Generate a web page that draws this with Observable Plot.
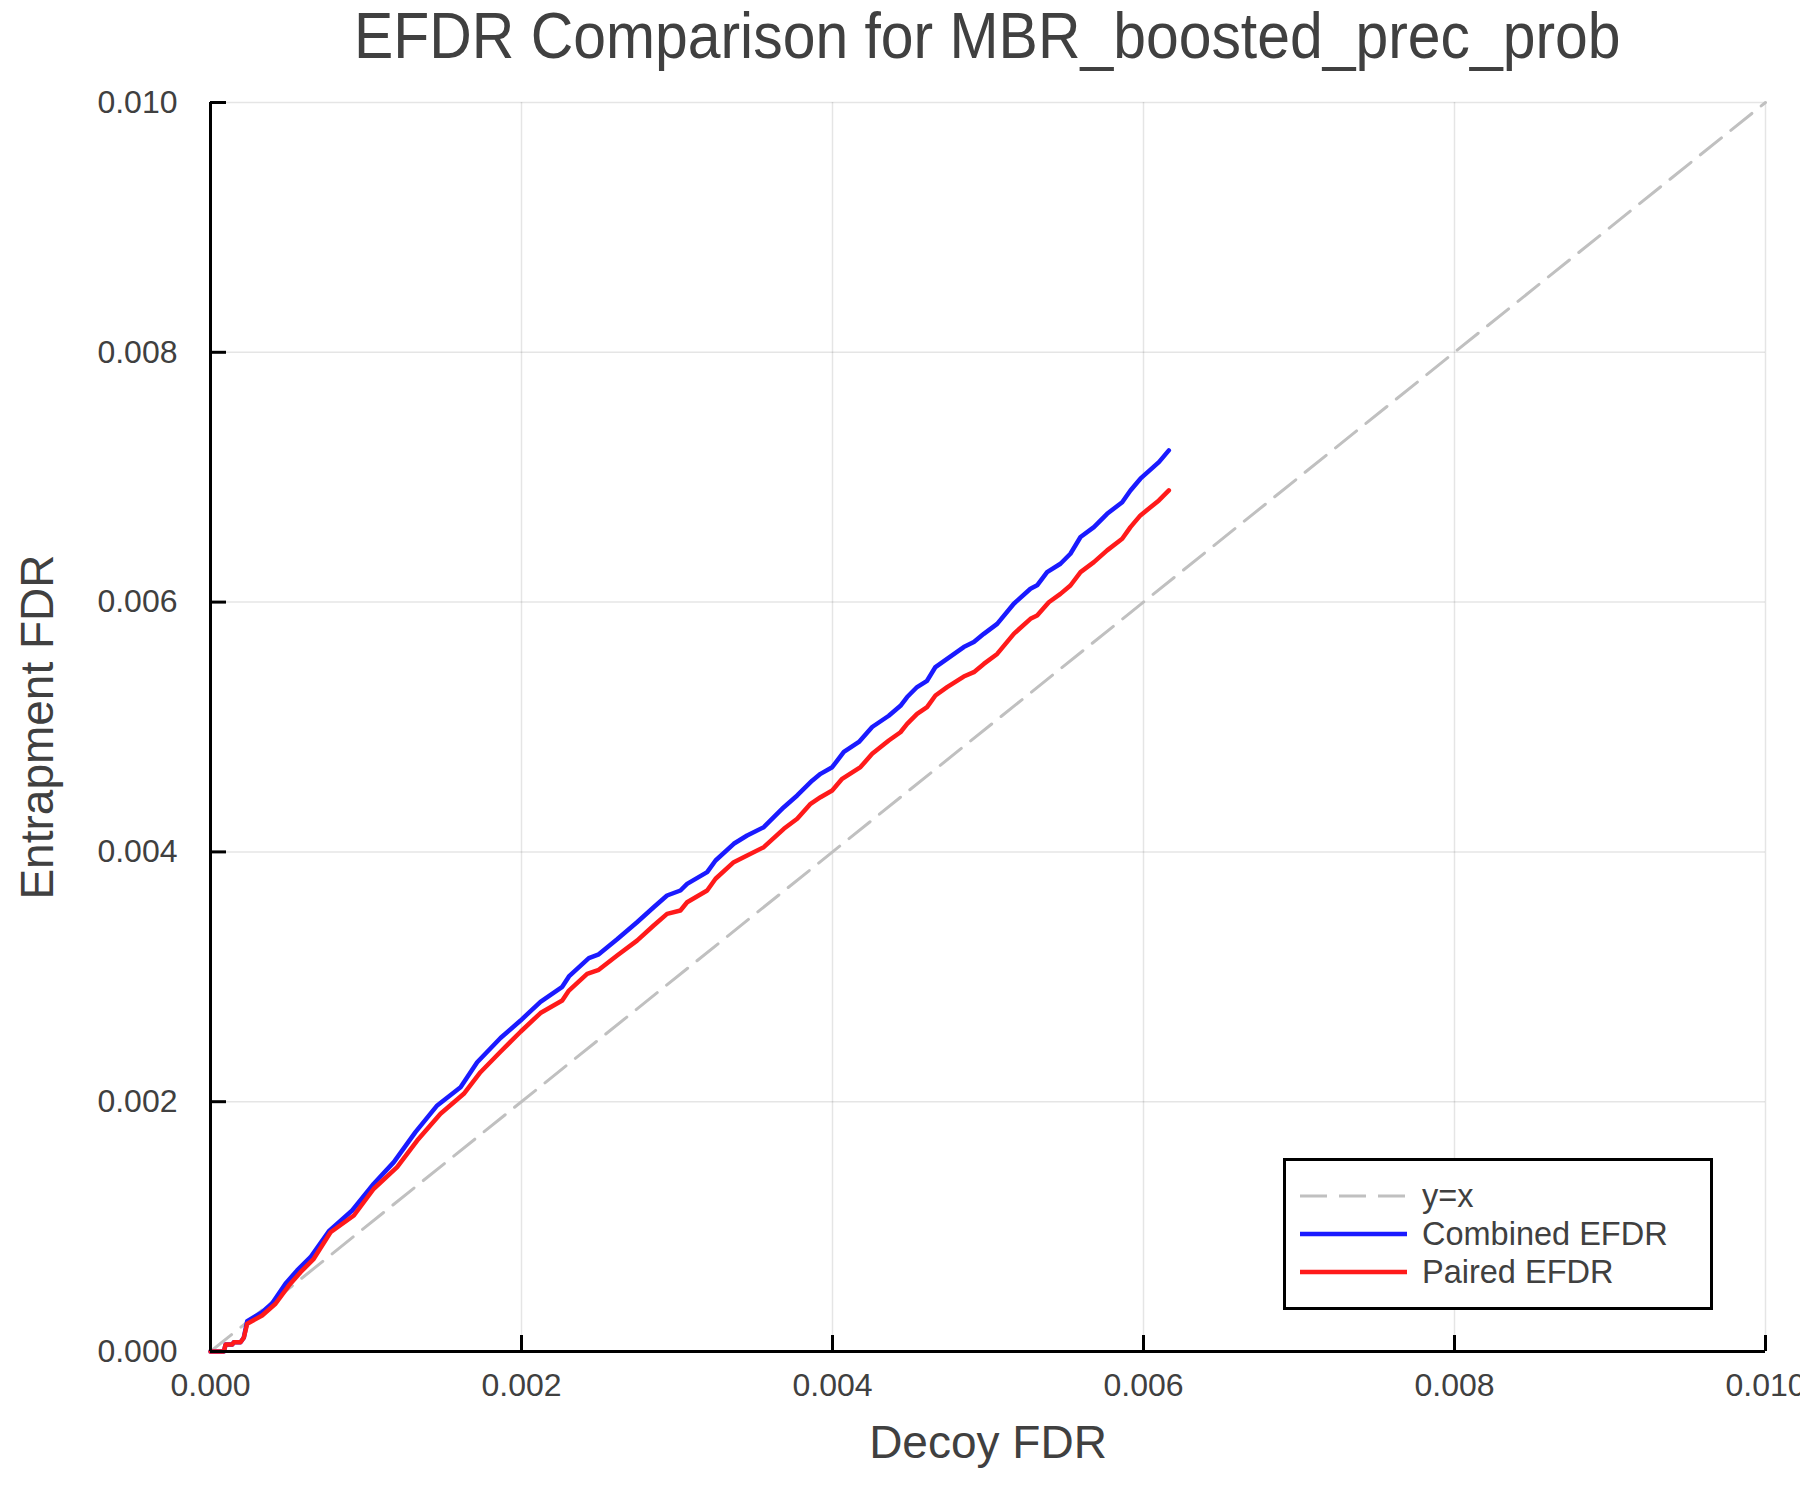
<!DOCTYPE html>
<html>
<head>
<meta charset="utf-8">
<script src="https://cdn.jsdelivr.net/npm/d3@7"></script>
<script src="https://cdn.jsdelivr.net/npm/@observablehq/plot@0.6"></script>
<style>
  body { margin: 0; background: #fff; }
  #wrap { position: relative; width: 1800px; height: 1500px; overflow: hidden;
          font-family: "Liberation Sans", Helvetica, Arial, sans-serif; color: #404040; background: #fff; }
  #title { position: relative; height: 80px; }
  #title div { position: absolute; left: 210px; width: 1555px; top: 0px; text-align: center;
               font-size: 64px; line-height: 72px; white-space: nowrap; }
  #title span { display: inline-block; transform: scaleX(0.92); transform-origin: center; }
  #legend { position: absolute; left: 1283px; top: 1158px; width: 430px; height: 152px;
            box-sizing: border-box; border: 3px solid #000; background: #fff; }
  .row { position: absolute; left: 14px; height: 38px; display: flex; align-items: center;
         font-size: 32.5px; line-height: 38px; white-space: nowrap; }
  .row svg { margin-right: 15px; }
</style>
</head>
<body>
<div id="wrap">
  <div id="title"><div><span id="titleText"></span></div></div>
  <div id="chart"></div>
  <div id="legend"></div>
</div>
<script>
// ---- data ----
const titleText = "EFDR Comparison for MBR_boosted_prec_prob";
const xLabel = "Decoy FDR";
const yLabel = "Entrapment FDR";
const tickValues = [0, 0.002, 0.004, 0.006, 0.008, 0.010];
const axisDomain = [0, 0.010];
const diagonal = [0, 0.010];

const combinedDecoyFdr = [0, 0.000086, 0.000097, 0.00014, 0.00015, 0.000193, 0.000214, 0.000236, 0.000332, 0.000397,
  0.000482, 0.000557, 0.000643, 0.000761, 0.000911, 0.00105, 0.001179, 0.001318, 0.001458, 0.001608,
  0.001715, 0.001865, 0.001994, 0.002122, 0.002262, 0.002305, 0.002433, 0.002497, 0.002615, 0.002743,
  0.00285, 0.002936, 0.003022, 0.003065, 0.003194, 0.003248, 0.003365, 0.003451, 0.003558, 0.003687,
  0.003773, 0.003869, 0.003923, 0.003998, 0.004073, 0.00417, 0.004255, 0.004362, 0.004437, 0.00448,
  0.004544, 0.004608, 0.004662, 0.004737, 0.004844, 0.004909, 0.004973, 0.005059, 0.005166, 0.005273,
  0.005316, 0.00538, 0.005466, 0.00553, 0.005595, 0.005681, 0.005766, 0.005863, 0.005916, 0.00598,
  0.006099, 0.006163];
const combinedEfdr = [0, 0, 0.000056, 0.000056, 0.000074, 0.000074, 0.00011, 0.000243, 0.000315, 0.000387,
  0.000542, 0.000649, 0.000755, 0.000963, 0.001129, 0.001343, 0.001516, 0.001756, 0.00197, 0.002116,
  0.002316, 0.00251, 0.00265, 0.0028, 0.00292, 0.003003, 0.00315, 0.00318, 0.0033, 0.003437,
  0.003557, 0.003651, 0.003691, 0.003744, 0.003838, 0.003931, 0.004065, 0.004131, 0.004198, 0.004358,
  0.004452, 0.00457, 0.004625, 0.004678, 0.0048, 0.00488, 0.005, 0.00509, 0.00517, 0.00524,
  0.00532, 0.00537, 0.00548, 0.005546, 0.00564, 0.00568, 0.005746, 0.005826, 0.005987, 0.006107,
  0.006134, 0.00624, 0.006307, 0.006387, 0.006521, 0.0066, 0.006707, 0.0068, 0.006894, 0.006988,
  0.007121, 0.007215];

const pairedDecoyFdr = [0, 0.000086, 0.000097, 0.00014, 0.00015, 0.000193, 0.000214, 0.000236, 0.000332, 0.000418,
  0.000504, 0.000579, 0.000664, 0.000772, 0.000922, 0.00105, 0.0012, 0.001329, 0.001479, 0.001629,
  0.001736, 0.001865, 0.001994, 0.002122, 0.002262, 0.002305, 0.002422, 0.002497, 0.002615, 0.002743,
  0.00285, 0.002936, 0.003022, 0.003065, 0.003194, 0.003248, 0.003365, 0.003451, 0.003558, 0.003687,
  0.003773, 0.003859, 0.003923, 0.003998, 0.004062, 0.00418, 0.004255, 0.004362, 0.004437, 0.00448,
  0.004544, 0.004608, 0.004662, 0.004737, 0.004844, 0.004909, 0.004973, 0.005059, 0.005166, 0.005273,
  0.005316, 0.005391, 0.005466, 0.00553, 0.005595, 0.005681, 0.005766, 0.005863, 0.005916, 0.00598,
  0.006099, 0.006163];
const pairedEfdr = [0, 0, 0.000056, 0.000056, 0.000074, 0.000074, 0.00011, 0.000222, 0.000288, 0.000382,
  0.000528, 0.000635, 0.000742, 0.000955, 0.001089, 0.001303, 0.001476, 0.001689, 0.001903, 0.002063,
  0.002236, 0.0024, 0.00256, 0.00271, 0.00281, 0.00289, 0.003024, 0.003056, 0.00317, 0.00329,
  0.003411, 0.003504, 0.003531, 0.003597, 0.003691, 0.003785, 0.003918, 0.003971, 0.004038, 0.004185,
  0.004265, 0.004385, 0.004438, 0.004492, 0.004585, 0.004679, 0.004785, 0.004892, 0.004958, 0.005025,
  0.005105, 0.005159, 0.005252, 0.005319, 0.005404, 0.005439, 0.005505, 0.005585, 0.005746, 0.005866,
  0.005892, 0.005999, 0.006066, 0.006133, 0.00624, 0.00632, 0.006414, 0.006507, 0.0066, 0.006694,
  0.006814, 0.006894];

const seriesNames = ["y=x", "Combined EFDR", "Paired EFDR"];
const seriesColors = ["#c0c0c0", "#1a1aff", "#ff1a1a"];

// ---- build tables ----
const combined = combinedDecoyFdr.map((x, i) => ({x, y: combinedEfdr[i]}));
const paired = pairedDecoyFdr.map((x, i) => ({x, y: pairedEfdr[i]}));
const fmt = d3.format(".3f");
const textColor = "#404040";
const font = "'Liberation Sans', Helvetica, Arial, sans-serif";

document.getElementById("titleText").textContent = titleText;

const chart = Plot.plot({
  width: 1800,
  height: 1420,
  marginTop: 22,
  marginBottom: 149,
  marginLeft: 210,
  marginRight: 35,
  style: {fontFamily: font, fontSize: "32px", color: textColor, background: "white"},
  x: {domain: axisDomain},
  y: {domain: axisDomain},
  marks: [
    Plot.gridX(tickValues, {stroke: "#000", strokeOpacity: 0.1, strokeWidth: 1.5}),
    Plot.gridY(tickValues, {stroke: "#000", strokeOpacity: 0.1, strokeWidth: 1.5}),
    Plot.line(diagonal, {x: d => d, y: d => d, stroke: seriesColors[0], strokeWidth: 3, strokeDasharray: "27,12"}),
    Plot.line(combined, {x: "x", y: "y", stroke: seriesColors[1], strokeWidth: 4.5, strokeLinejoin: "round"}),
    Plot.line(paired, {x: "x", y: "y", stroke: seriesColors[2], strokeWidth: 4.5, strokeLinejoin: "round"}),
    Plot.ruleX([axisDomain[0]], {stroke: "#000", strokeWidth: 3}),
    Plot.ruleY([axisDomain[0]], {stroke: "#000", strokeWidth: 3}),
    Plot.axisX(tickValues, {tickSize: 16, dy: -16, fill: "none", stroke: "#000", strokeWidth: 3, label: null}),
    Plot.axisY(tickValues, {tickSize: 16, dx: 16, fill: "none", stroke: "#000", strokeWidth: 3, label: null}),
    Plot.axisX(tickValues, {tickSize: 0, tickPadding: 22, stroke: "none", fill: textColor, tickFormat: fmt, fontSize: 32, label: null}),
    Plot.axisY(tickValues, {tickSize: 0, tickPadding: 33, stroke: "none", fill: textColor, tickFormat: fmt, fontSize: 32, label: null}),
    Plot.text([xLabel], {text: d => d, frameAnchor: "bottom", dy: 74, lineAnchor: "top", textAnchor: "middle", fontSize: 46, fill: textColor}),
    Plot.text([yLabel], {text: d => d, frameAnchor: "left", dx: -190, rotate: -90, lineAnchor: "top", textAnchor: "middle", fontSize: 46, fill: textColor})
  ]
});
document.getElementById("chart").appendChild(chart);

// ---- legend ----
const legend = document.getElementById("legend");
const rowCenters = [35, 73, 111];
seriesNames.forEach((name, i) => {
  const row = document.createElement("div");
  row.className = "row";
  row.style.top = (rowCenters[i] - 19) + "px";
  const dash = i === 0 ? ' stroke-dasharray="27,12"' : "";
  const sw = i === 0 ? 3 : 4.5;
  row.innerHTML = `<svg width="107" height="38"><line x1="0" y1="19" x2="107" y2="19" stroke="${seriesColors[i]}" stroke-width="${sw}"${dash}/></svg><span>${name}</span>`;
  legend.appendChild(row);
});
</script>
</body>
</html>
